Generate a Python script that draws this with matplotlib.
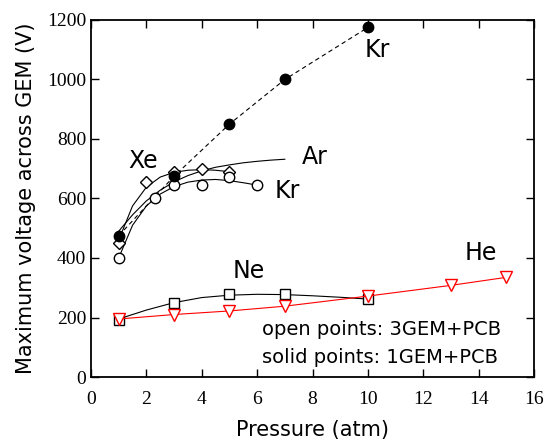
import matplotlib.pyplot as plt

# 1GEM+PCB, Kr (solid points)
kr1_p = [1, 3, 5, 7, 10]
kr1_v = [475, 675, 850, 1000, 1175]

# 3GEM+PCB, Xe (open diamonds)
xe_p = [1, 2, 3, 4, 5]
xe_v = [450, 655, 690, 700, 688]

# 3GEM+PCB, Kr (open circles)
kr3_p = [1, 2.3, 3, 4, 5, 6]
kr3_v = [400, 600, 645, 645, 672, 645]

# 3GEM+PCB, Ne (open squares)
ne_p = [1, 3, 5, 7, 10]
ne_v = [190, 248, 278, 278, 262]

# 3GEM+PCB, He (red triangles)
he_p = [1, 3, 5, 7, 10, 13, 15]
he_v = [195, 210, 222, 238, 272, 308, 335]

# guide curves
xe_fit_p = [1, 1.5, 2, 2.5, 3, 3.5, 4, 4.5, 5]
xe_fit_v = [460, 575, 638, 672, 688, 695, 697, 695, 690]
ar_fit_p = [1, 1.5, 2, 2.5, 3, 3.5, 4, 4.5, 5, 5.5, 6, 6.5, 7]
ar_fit_v = [490, 545, 592, 628, 656, 677, 693, 705, 713, 720, 725, 729, 732]
kr3_fit_p = [1, 1.5, 2, 2.5, 3, 3.5, 4, 4.5, 5, 5.5, 6]
kr3_fit_v = [400, 510, 575, 615, 640, 655, 662, 664, 660, 653, 645]
ne_fit_p = [1, 2, 3, 4, 5, 6, 7, 8, 9, 10]
ne_fit_v = [195, 225, 250, 267, 275, 278, 277, 273, 268, 262]

plt.rcParams['font.family'] = 'DejaVu Sans'
fig = plt.figure(figsize=(5.46, 4.42), dpi=100)
ax = fig.add_axes([91/546, 1 - 377/442, 443/546, 357/442])

lw = 0.8
ax.plot(kr1_p, kr1_v, 'k--', lw=lw, dashes=(4, 3))
ax.plot(kr1_p, kr1_v, 'o', color='k', ms=7.5, zorder=4)

ax.plot(xe_fit_p, xe_fit_v, 'k-', lw=lw)
ax.plot(ar_fit_p, ar_fit_v, 'k-', lw=lw)
ax.plot(kr3_fit_p, kr3_fit_v, 'k-', lw=lw)
ax.plot(ne_fit_p, ne_fit_v, 'k-', lw=lw)

ax.plot(xe_p, xe_v, 'D', mfc='white', mec='k', ms=6.3, mew=1, zorder=3)
ax.plot(kr3_p, kr3_v, 'o', mfc='white', mec='k', ms=7.5, mew=1, zorder=3)
ax.plot(ne_p, ne_v, 's', mfc='white', mec='k', ms=7, mew=1, zorder=3)
ax.plot(he_p, he_v, 'v-', color='red', mfc='white', mec='red', ms=9, mew=1, lw=lw, zorder=4)

fs = 17
ax.text(9.9, 1099, 'Kr', fontsize=fs, va='center')
ax.text(1.34, 727, 'Xe', fontsize=fs, va='center')
ax.text(7.6, 740, 'Ar', fontsize=fs, va='center')
ax.text(6.64, 625, 'Kr', fontsize=fs, va='center')
ax.text(5.13, 357, 'Ne', fontsize=fs, va='center')
ax.text(13.5, 416, 'He', fontsize=fs, va='center')
ax.text(6.17, 159, 'open points: 3GEM+PCB', fontsize=14, va='center')
ax.text(6.17, 66, 'solid points: 1GEM+PCB', fontsize=14, va='center')

ax.set_xlim(0, 16)
ax.set_ylim(0, 1200)
ax.set_xticks(range(0, 17, 2))
ax.set_yticks(range(0, 1201, 200))
ax.tick_params(direction='in', top=True, right=True, length=6, width=1)
ax.tick_params(axis='x', pad=10)
for lab in ax.get_xticklabels() + ax.get_yticklabels():
    lab.set_fontfamily('Liberation Serif')
    lab.set_fontsize(14)
for s in ax.spines.values():
    s.set_linewidth(1.3)

ax.set_xlabel('Pressure (atm)', fontsize=15, labelpad=9)
ax.set_ylabel('Maximum voltage across GEM (V)', fontsize=15, labelpad=8)

fig.savefig('out.png', dpi=100)
